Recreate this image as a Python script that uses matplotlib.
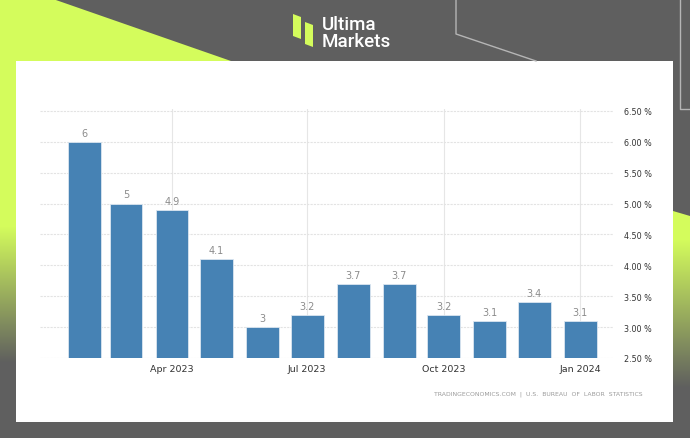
import datetime as dt
import numpy as np
import matplotlib
matplotlib.use('Agg')
from matplotlib import pyplot as plt
from matplotlib.patches import Polygon, Rectangle

# US inflation rate YoY, Feb 2023 - Jan 2024
months = [dt.date(2023, m, 1) for m in range(2, 13)] + [dt.date(2024, 1, 1)]
values = [6, 5, 4.9, 4.1, 3, 3.2, 3.7, 3.7, 3.2, 3.1, 3.4, 3.1]
yticks = [2.5, 3.0, 3.5, 4.0, 4.5, 5.0, 5.5, 6.0, 6.5]
xticks = [dt.date(2023, 4, 1), dt.date(2023, 7, 1), dt.date(2023, 10, 1), dt.date(2024, 1, 1)]
xticklabels = ['Apr 2023', 'Jul 2023', 'Oct 2023', 'Jan 2024']
source = 'TRADINGECONOMICS.COM  |  U.S.  BUREAU  OF  LABOR  STATISTICS'

W, H = 690, 439
GRAY = '#5f5f5f'
LIME = '#d4fc5c'

fig = plt.figure(figsize=(W / 100, H / 100), dpi=100)
fig.patch.set_facecolor(GRAY)

# background decoration, pixel coordinates
bg = fig.add_axes([0, 0, 1, 1])
bg.set_xlim(0, W)
bg.set_ylim(H, 0)
bg.axis('off')


def vgrad(y0, y1, fade0, fade1):
    ys = np.arange(y0, y1)
    t = np.clip((ys - fade0) / (fade1 - fade0), 0, 1)
    c0 = np.array(matplotlib.colors.to_rgb(LIME))
    c1 = np.array(matplotlib.colors.to_rgb(GRAY))
    return (c0[None, :] * (1 - t[:, None]) + c1[None, :] * t[:, None])[:, None, :]


bg.add_patch(Polygon([(0, 0), (53, 0), (231, 62), (0, 62)], color=LIME, lw=0))
bg.imshow(vgrad(62, H, 227, 363), extent=(0, 30, H, 62), aspect='auto')
right = bg.imshow(vgrad(205, H, 240, 388), extent=(660, W, H, 205), aspect='auto')
right.set_clip_path(Polygon([(673, 212), (W, 217), (W, H), (673, H)], transform=bg.transData))

bg.plot([456, 456, 536], [0, 35, 62], color='#b5b5b5', lw=1)
bg.plot([680, 680, W], [0, 110, 110], color='#b5b5b5', lw=1)

bg.add_patch(Rectangle((16, 62), 657, 361, color='white', lw=0))

# logo
bg.add_patch(Polygon([(293, 15), (301, 18), (301, 40), (293, 37)], color=LIME, lw=0))
bg.add_patch(Polygon([(305, 23), (313, 26), (313, 48), (305, 45)], color=LIME, lw=0))
bg.text(322, 30, 'Ultima', color='white', fontsize=13.5, family='Roboto',
        weight='medium', va='baseline')
bg.text(322, 47, 'Markets', color='white', fontsize=13.5, family='Roboto',
        weight='medium', va='baseline')

bg.text(643, 394, source, color='#9a9a9a', fontsize=4.4, ha='right', va='center')

# chart
ax = fig.add_axes([40 / W, (H - 359) / H, (613 - 40) / W, (359 - 110) / H])
ax.set_facecolor('none')
bars = ax.bar(months, values, width=22, color='#4682b4', edgecolor='#dbe6f0',
              linewidth=0.6, zorder=3)
ax.bar_label(bars, fmt='%g', padding=3, color='#8c8c8c', fontsize=7)

ax.set_xlim(dt.date(2023, 1, 2), dt.date(2024, 1, 23))
ax.set_ylim(2.5, 6.53)
ax.set_yticks(yticks)
ax.set_yticklabels([f'{v:.2f} %' for v in yticks])
ax.yaxis.tick_right()
ax.set_xticks(xticks)
ax.set_xticklabels(xticklabels)
ax.tick_params(axis='y', length=0, pad=8, labelsize=5.8, labelcolor='#333333')
ax.tick_params(axis='x', length=0, pad=4, labelsize=6.8, labelcolor='#333333')
for s in ax.spines.values():
    s.set_visible(False)
ax.grid(axis='y', color='#e3e3e3', lw=0.8, ls=(0, (2, 1)), zorder=0)
ax.grid(axis='x', color='#e6e6e6', lw=0.8, zorder=0)

fig.savefig('out.png', dpi=100, facecolor=GRAY)
